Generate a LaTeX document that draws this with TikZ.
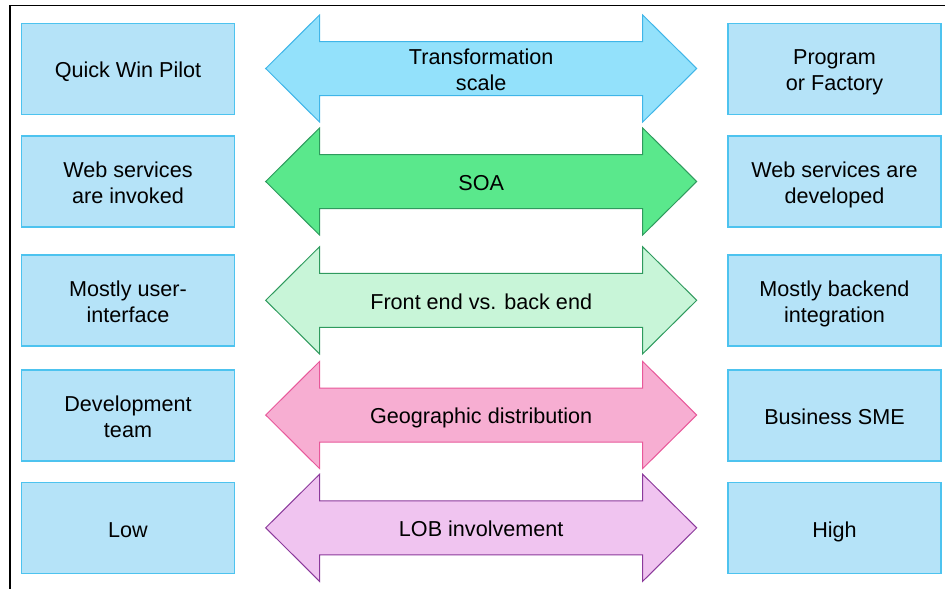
\documentclass[tikz,border=0pt]{standalone}
\usepackage{fontspec}
\setmainfont{Liberation Sans}
\definecolor{boxfill}{HTML}{B5E3F8}
\definecolor{boxline}{HTML}{4DC3EF}
\definecolor{afillA}{HTML}{93E1FB}
\definecolor{alineA}{HTML}{3FB5E8}
\definecolor{afillB}{HTML}{5AE88C}
\definecolor{alineB}{HTML}{2F9A5E}
\definecolor{afillC}{HTML}{C8F5D8}
\definecolor{alineC}{HTML}{2F9A5E}
\definecolor{afillD}{HTML}{F7AED2}
\definecolor{alineD}{HTML}{E8589A}
\definecolor{afillE}{HTML}{F0C4F0}
\definecolor{alineE}{HTML}{8B3A9B}
\newcommand{\TL}[1]{\smash{#1}\rule[-4pt]{0pt}{25.8pt}}
\newcommand{\myarrow}[3]{%
  \draw[line width=1pt, fill=#2, draw=#3, line join=miter]
    (265.7,#1) -- (319.5,#1-53.5) -- (319.5,#1-27) -- (642.7,#1-27)
    -- (642.7,#1-53.5) -- (696.7,#1) -- (642.7,#1+53.5) -- (642.7,#1+27)
    -- (319.5,#1+27) -- (319.5,#1+53.5) -- cycle;}
\begin{document}
\begin{tikzpicture}[x=1pt,y=-1pt,
  box/.style={draw=boxline, fill=boxfill, line width=1.2pt, minimum width=213pt,
    minimum height=91pt, inner sep=0pt, align=center, font=\fontsize{21.6}{26}\selectfont},
  alabel/.style={align=center, inner sep=0pt, font=\fontsize{21.6}{26}\selectfont}]
\useasboundingbox (0,0) rectangle (945,589);
\draw[line width=1.5pt] (945,5.5) -- (10,5.5) -- (10,589);
% arrows
\myarrow{68.5}{afillA}{alineA}
\myarrow{181.5}{afillB}{alineB}
\myarrow{300.3}{afillC}{alineC}
\myarrow{415}{afillD}{alineD}
\myarrow{527.8}{afillE}{alineE}
\node[alabel] (a1) at (481.2,68.5) {\TL{Transformation}\\\TL{scale}};
\node[alabel] (a2) at (481.2,181.5) {\TL{SOA}};
\node[alabel] (a3) at (481.2,300.3) {\TL{Front end vs. back end}};
\node[alabel] (a4) at (481.2,415) {\TL{Geographic distribution}};
\node[alabel] (a5) at (481.2,527.8) {\TL{LOB involvement}};
% left boxes
\node[box] (l1) at (128,68.8) {\TL{Quick Win Pilot}};
\node[box] (l2) at (128,181.5) {\TL{Web services}\\\TL{are invoked}};
\node[box] (l3) at (128,300.5) {\TL{Mostly user-}\\\TL{interface}};
\node[box] (l4) at (128,415.5) {\TL{Development}\\\TL{team}};
\node[box] (l5) at (128,528.2) {\TL{Low}};
% right boxes
\node[box] (r1) at (834.5,68.8) {\TL{Program}\\\TL{or Factory}};
\node[box] (r2) at (834.5,181.5) {\TL{Web services are}\\\TL{developed}};
\node[box] (r3) at (834.5,300.5) {\TL{Mostly backend}\\\TL{integration}};
\node[box] (r4) at (834.5,415.5) {\TL{Business SME}};
\node[box] (r5) at (834.5,528.2) {\TL{High}};
\end{tikzpicture}
\end{document}
